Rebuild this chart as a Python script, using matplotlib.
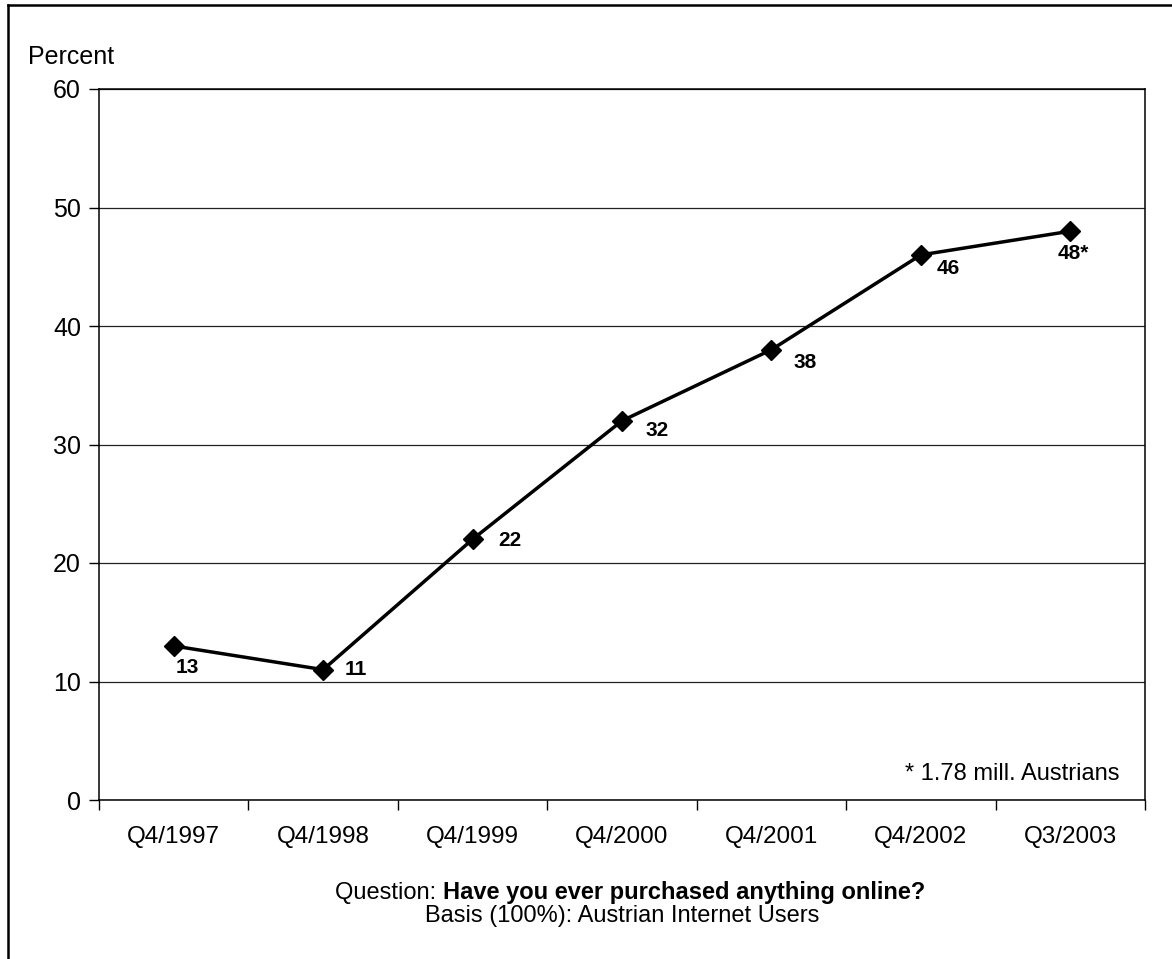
import matplotlib
matplotlib.use("Agg")
import matplotlib.pyplot as plt
from matplotlib.lines import Line2D

plt.rcParams['font.family'] = ['Liberation Sans', 'DejaVu Sans']

categories = ["Q4/1997", "Q4/1998", "Q4/1999", "Q4/2000", "Q4/2001", "Q4/2002", "Q3/2003"]
values = [13, 11, 22, 32, 38, 46, 48]
labels = ["13", "11", "22", "32", "38", "46", "48*"]
# label offsets in pixels (dx, dy downwards)
offsets = [(14, 22), (33, 0), (37, 1), (35, 10), (34, 13), (27, 14), (3, 22)]
yticks = [0, 10, 20, 30, 40, 50, 60]

W, H = 1172, 959
fig = plt.figure(figsize=(W / 100, H / 100), dpi=100)
ax = fig.add_axes([99 / W, 1 - 800 / H, (1145 - 99) / W, (800 - 89) / H])

x = list(range(len(categories)))
ax.plot(x, values, color='black', lw=2.5, marker='D', markersize=10.5,
        markerfacecolor='black', markeredgecolor='black', markeredgewidth=1, zorder=3)

for xi, v, lab, (dx, dy) in zip(x, values, labels, offsets):
    ax.annotate(lab, (xi, v), xytext=(dx * 0.72, -dy * 0.72), textcoords='offset points',
                ha='center', va='center', fontsize=15, fontweight='bold', zorder=4)

ax.set_xlim(-0.5, len(categories) - 0.5)
ax.set_ylim(0, 60)
ax.set_yticks(yticks)
ax.set_yticklabels([str(t) for t in yticks], fontsize=18)
ax.yaxis.grid(True, color='#222222', lw=0.9)
ax.set_axisbelow(True)

ax.set_xticks([i - 0.5 for i in range(len(categories) + 1)])
ax.set_xticklabels([])
ax.set_xticks(x, minor=True)
ax.set_xticklabels(categories, minor=True, fontsize=17.5)
ax.tick_params(axis='x', which='minor', length=0, pad=19)
ax.tick_params(axis='x', which='major', length=7, width=1, direction='out')
ax.tick_params(axis='y', length=7, width=1, direction='out', pad=6)

for s in ax.spines.values():
    s.set_linewidth(1.1)
    s.set_color('black')

ax.text(0.976, 0.037, "* 1.78 mill. Austrians", transform=ax.transAxes,
        ha='right', va='center', fontsize=17)

fig.text(28 / W, 1 - 57 / H, "Percent", ha='left', va='center', fontsize=18)

# footer with mixed weight
fig.canvas.draw()
r = fig.canvas.get_renderer()
yq = 1 - 899 / H
a = fig.text(0, yq, "Question: ", fontsize=17, va='baseline')
b = fig.text(0, yq, "Have you ever purchased anything online?", fontsize=17,
             fontweight='bold', va='baseline')
wa = a.get_window_extent(r).width
wb = b.get_window_extent(r).width
x0 = (630 - (wa + wb) / 2) / W
a.set_x(x0)
b.set_x(x0 + wa / W)

fig.text(622 / W, 1 - 922 / H, "Basis (100%): Austrian Internet Users", ha='center',
         va='baseline', fontsize=17)

# outer border (top and left)
fig.add_artist(Line2D([8 / W, 1.0], [1 - 5 / H, 1 - 5 / H], transform=fig.transFigure, color='black', lw=1.8))
fig.add_artist(Line2D([8 / W, 8 / W], [0, 1 - 5 / H], transform=fig.transFigure, color='black', lw=1.8))

fig.savefig("out.png", dpi=100)
